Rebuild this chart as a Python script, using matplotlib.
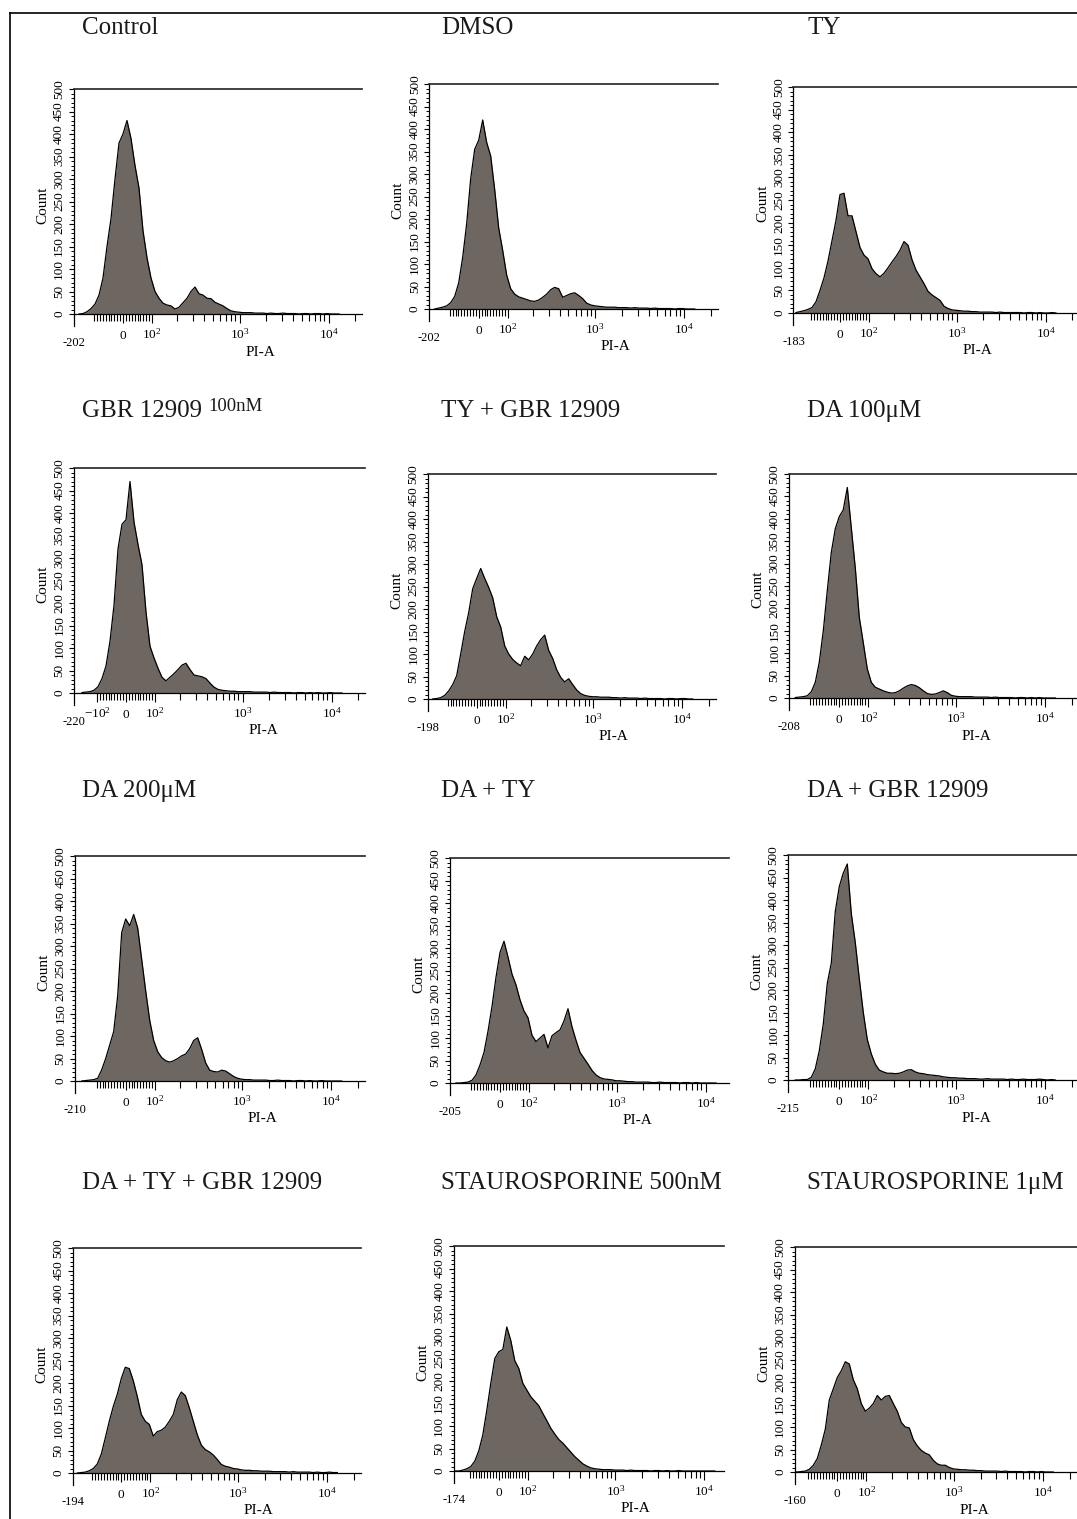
import numpy as np
import matplotlib
matplotlib.use("Agg")
import matplotlib.pyplot as plt
from matplotlib.lines import Line2D

plt.rcParams['font.family'] = ['Liberation Serif', 'DejaVu Serif']
plt.rcParams['mathtext.fontset'] = 'custom'
plt.rcParams['mathtext.rm'] = 'Liberation Serif'
plt.rcParams['mathtext.it'] = 'Liberation Serif:italic'

W, H = 1077, 1519

# ---- data -------------------------------------------------------------
titles = ['Control', 'DMSO', 'TY',
          'GBR 12909', 'TY + GBR 12909', 'DA 100\u03bcM',
          'DA 200\u03bcM', 'DA + TY', 'DA + GBR 12909',
          'DA + TY + GBR 12909', 'STAUROSPORINE 500nM', 'STAUROSPORINE 1\u03bcM']
title_small = ['', '', '', '100nM', '', '', '', '', '', '', '', '']

x_min = [-202, -202, -183, -220, -198, -208, -210, -205, -215, -194, -174, -160]
x_max = [24000, 24000, 24000, 24000, 24000, 24000, 24000, 18500, 24000, 24000, 16500, 24000]
# panels whose axis also carries a "-10^2" label
neg_label = [False, False, False, True, False, False, False, False, False, False, False, False]

control = [0, 1, 5, 12, 22, 42, 80, 150, 212, 300, 380,
           400, 430, 390, 330, 280, 185, 125, 80, 50, 35, 24,
           20, 18, 11, 15, 25, 35, 50, 60, 45, 42, 35,
           34, 26, 22, 18, 12, 7, 5, 4, 3, 3, 3,
           2, 2, 2, 1, 2, 1, 1, 2, 1, 1, 1,
           0, 1, 1, 0, 1, 1, 0, 1, 0, 0, 0]
dmso = [0, 2, 4, 7, 14, 28, 58, 115, 190, 290, 355,
        375, 420, 370, 340, 265, 180, 130, 75, 45, 33, 27,
        24, 21, 18, 17, 20, 26, 33, 43, 48, 45, 26,
        30, 34, 36, 30, 23, 13, 9, 7, 6, 5, 4,
        4, 4, 3, 3, 3, 2, 3, 2, 2, 2, 1,
        2, 1, 1, 1, 1, 0, 1, 1, 0, 0, 0]
ty = [1, 3, 5, 8, 12, 25, 50, 78, 115, 160, 205,
      262, 265, 215, 215, 180, 145, 128, 120, 98, 87, 80,
      88, 100, 113, 125, 139, 158, 150, 118, 95, 80, 65,
      48, 40, 34, 28, 15, 10, 7, 6, 5, 4, 4,
      3, 3, 2, 2, 2, 2, 1, 2, 1, 1, 1,
      1, 1, 0, 1, 1, 0, 1, 0, 0, 1, 0]
gbr = [1, 2, 3, 6, 14, 32, 60, 115, 195, 320, 375,
       385, 470, 380, 330, 285, 180, 104, 78, 55, 35, 27,
       35, 43, 52, 62, 66, 52, 40, 38, 36, 32, 22,
       13, 8, 6, 5, 4, 4, 3, 3, 3, 3, 2,
       2, 2, 2, 1, 2, 1, 1, 1, 1, 0, 1,
       1, 0, 1, 0, 1, 0, 0, 1, 0, 0, 0]
ty_gbr = [0, 1, 3, 8, 18, 32, 52, 100, 150, 192, 245,
          268, 290, 268, 248, 225, 183, 160, 118, 100, 88, 80,
          74, 95, 87, 100, 118, 132, 142, 108, 90, 65, 48,
          38, 45, 32, 20, 12, 8, 6, 5, 5, 4, 4,
          4, 3, 3, 2, 3, 2, 2, 2, 1, 2, 1,
          1, 1, 1, 0, 1, 1, 0, 1, 1, 0, 0]
da100 = [1, 2, 3, 5, 14, 35, 80, 150, 240, 325, 378,
         405, 420, 470, 380, 290, 180, 123, 65, 35, 24, 20,
         16, 13, 11, 12, 16, 22, 27, 30, 28, 23, 16,
         10, 8, 9, 12, 16, 12, 6, 4, 3, 3, 3,
         3, 2, 2, 2, 2, 1, 2, 1, 1, 1, 1,
         0, 1, 1, 0, 1, 0, 1, 0, 0, 0, 0]
da200 = [0, 1, 2, 3, 6, 25, 50, 80, 110, 190, 330,
         360, 345, 370, 340, 270, 200, 135, 90, 65, 52, 45,
         42, 45, 50, 56, 60, 72, 90, 96, 70, 40, 24,
         21, 20, 24, 22, 16, 10, 6, 4, 3, 3, 2,
         2, 2, 2, 1, 1, 2, 1, 1, 1, 0, 1,
         1, 0, 1, 0, 0, 1, 0, 0, 0, 0, 0]
da_ty = [0, 0, 1, 2, 6, 18, 40, 68, 115, 170, 235,
         290, 315, 280, 242, 218, 185, 160, 145, 106, 92, 100,
         108, 78, 105, 112, 118, 138, 165, 125, 95, 68, 55,
         42, 28, 18, 12, 9, 8, 7, 5, 5, 4, 3,
         3, 2, 2, 2, 2, 1, 1, 2, 1, 1, 1,
         1, 0, 1, 1, 0, 1, 0, 0, 0, 0, 0]
da_gbr = [0, 0, 1, 1, 6, 25, 65, 125, 215, 260, 375,
          430, 460, 480, 370, 305, 225, 150, 90, 58, 35, 22,
          18, 15, 15, 14, 15, 18, 22, 23, 18, 15, 14,
          12, 11, 10, 9, 7, 6, 5, 5, 4, 4, 3,
          3, 3, 2, 2, 3, 2, 2, 2, 2, 1, 2,
          1, 1, 2, 1, 1, 1, 2, 1, 0, 1, 0]
da_ty_gbr = [0, 1, 2, 5, 10, 20, 42, 78, 115, 148, 175,
             210, 235, 232, 205, 170, 130, 115, 108, 82, 92, 95,
             102, 115, 130, 163, 180, 172, 145, 115, 85, 62, 52,
             47, 40, 30, 19, 15, 13, 10, 9, 7, 6, 6,
             5, 5, 4, 4, 4, 3, 3, 3, 3, 2, 3,
             2, 2, 2, 2, 1, 2, 1, 1, 2, 1, 1]
sts500 = [0, 0, 2, 5, 10, 22, 45, 80, 135, 195, 250,
          265, 270, 320, 290, 245, 228, 195, 180, 165, 155, 145,
          128, 112, 95, 82, 70, 62, 52, 42, 32, 24, 16,
          11, 7, 5, 4, 3, 3, 3, 2, 2, 2, 1,
          2, 1, 1, 1, 1, 0, 1, 1, 0, 1, 0,
          0, 1, 0, 0, 0, 0, 0, 0, 0, 0, 0]
sts1 = [0, 0, 1, 2, 6, 15, 30, 60, 95, 160, 185,
        210, 225, 245, 240, 205, 185, 152, 135, 142, 152, 170,
        160, 168, 170, 152, 135, 110, 100, 98, 72, 58, 48,
        42, 38, 26, 18, 15, 15, 10, 7, 6, 5, 5,
        4, 4, 3, 3, 2, 2, 2, 2, 1, 2, 1,
        1, 1, 1, 0, 1, 1, 0, 1, 0, 0, 0]

counts = [control, dmso, ty, gbr, ty_gbr, da100,
          da200, da_ty, da_gbr, da_ty_gbr, sts500, sts1]

# ---- layout (pixels): position of the 0 tick, top line, baseline ----------
zero_px = [123, 478.7, 840, 126, 476.7, 839.3, 125.7, 500, 839.3, 121.3, 498.8, 837.3]
top_px = [89, 84, 87, 468, 474, 474, 856, 858, 855, 1248, 1246, 1247]
base_px = [314, 309, 313, 693, 699, 698, 1081, 1083, 1080, 1473, 1471, 1472]
title_x = [82, 441, 807]
title_base = [34, 417, 797, 1189]

# ---- biexponential-like display scale ------------------------------------
DEC = 89.0          # pixels per decade
S = 0.29 / DEC      # linear slope near zero
LP = 133.3
LN = 100.0
KN = S * LN * np.log(10)


def fwd(x):
    x = np.asarray(x, dtype=float)
    a = np.maximum(np.abs(x), 1e-9)
    pos = np.where(x <= LP, x * S, S * LP + np.log10(a / LP))
    neg = np.where(x >= -LN, x * S, -(S * LN + KN * np.log10(a / LN)))
    return np.where(x >= 0, pos, neg)


def inv(u):
    u = np.asarray(u, dtype=float)
    uc = np.clip(u, -20, 20)
    pos = np.where(uc <= S * LP, uc / S, LP * 10 ** (uc - S * LP))
    neg = np.where(uc >= -S * LN, uc / S, -LN * 10 ** ((-uc - S * LN) / KN))
    return np.where(uc >= 0, pos, neg)


# histogram channels: 4 px wide on the display scale
bin_x = inv(np.arange(-44, 217, 4) / DEC)

FILL = '#6d6661'
PX = 72.0 / 100.0   # points per pixel

fig = plt.figure(figsize=(W / 100, H / 100), dpi=100)
fig.patch.set_facecolor('white')

minor_base = ([-90, -80, -70, -60, -50, -40, -30, -20, -10]
              + [10, 20, 30, 40, 50, 60, 70, 80, 90]
              + [200, 300, 400, 500, 600, 700, 800, 900]
              + [2000, 3000, 4000, 5000, 6000, 7000, 8000, 9000, 20000])

renderer = fig.canvas.get_renderer()

for i in range(12):
    lo, hi = x_min[i], x_max[i]
    left = zero_px[i] + float(fwd(lo)) * DEC
    right = zero_px[i] + float(fwd(hi)) * DEC
    ax = fig.add_axes([left / W, 1 - base_px[i] / H,
                       (right - left) / W, (base_px[i] - top_px[i]) / H])
    ax.set_xscale('function', functions=(fwd, inv))
    ax.set_xlim(lo, hi)
    ax.set_ylim(0, 500)

    ax.fill_between(bin_x, counts[i], 0, color=FILL, lw=0, zorder=2)
    ax.plot(bin_x, counts[i], color='black', lw=0.9, zorder=3)

    ax.spines['right'].set_visible(False)
    for s in ('left', 'bottom'):
        ax.spines[s].set_linewidth(0.9)
    ax.spines['top'].set_linewidth(1.2)
    ax.spines['top'].set_color('#222222')

    # x axis
    maj = [0, 100, 1000, 10000]
    lab = ['0', r'$10^2$', r'$10^3$', r'$10^4$']
    mnr = list(minor_base)
    if neg_label[i]:
        maj = [-100] + maj
        lab = [r'$-10^2$'] + lab
    else:
        mnr = [-100] + mnr
    mnr = [m for m in mnr if lo < m < hi]
    ax.set_xticks(maj, lab, va='baseline', fontsize=9.5)
    ax.set_xticks(mnr, minor=True)
    ax.tick_params(axis='x', which='major', direction='out', length=6.5, width=0.8, pad=11.5)
    ax.tick_params(axis='x', which='minor', direction='out', length=4.7, width=0.8)
    ax.plot([0, 0], [0, -12 / (base_px[i] - top_px[i])], transform=ax.transAxes,
            color='black', lw=0.9, clip_on=False)
    ax.annotate(str(lo), xy=(0, 0), xycoords='axes fraction',
                xytext=(0, -29 * PX), textcoords='offset points',
                ha='center', va='center', fontsize=9)
    ax.annotate('PI-A', xy=(float(inv(137 / DEC)), 0), xycoords=ax.get_xaxis_transform(),
                xytext=(0, -38 * PX), textcoords='offset points',
                ha='center', va='center', fontsize=11)

    # y axis
    ax.set_yticks(range(0, 501, 50))
    ax.set_yticks(range(0, 501, 10), minor=True)
    ax.tick_params(axis='y', which='major', direction='out', length=3.6, width=0.8,
                   pad=2.5, labelsize=9.5, labelrotation=90)
    ax.tick_params(axis='y', which='minor', direction='out', length=2.2, width=0.7)
    for t in ax.get_yticklabels():
        t.set_va('center')
    ax.annotate('Count', xy=(0, 0.484), xycoords='axes fraction',
                xytext=(-31 * PX, 0), textcoords='offset points',
                rotation=90, ha='center', va='center', fontsize=11)

    # panel title
    tx = title_x[i % 3] / W
    ty_ = 1 - title_base[i // 3] / H
    t = fig.text(tx, ty_, titles[i], fontsize=18, ha='left', va='baseline', color='#1a1a1a')
    if title_small[i]:
        bb = t.get_window_extent(renderer=renderer)
        fig.text((bb.x1 + 6) / W, ty_ + 6 / H, title_small[i], fontsize=13.5,
                 ha='left', va='baseline', color='#1a1a1a')

# outer frame (left and top edges)
fig.add_artist(Line2D([10 / W, 10 / W], [0, 1 - 13 / H], color='black', lw=1.2))
fig.add_artist(Line2D([10 / W, 1], [1 - 13 / H, 1 - 13 / H], color='black', lw=1.2))

fig.savefig('out.png', dpi=100, facecolor='white')
